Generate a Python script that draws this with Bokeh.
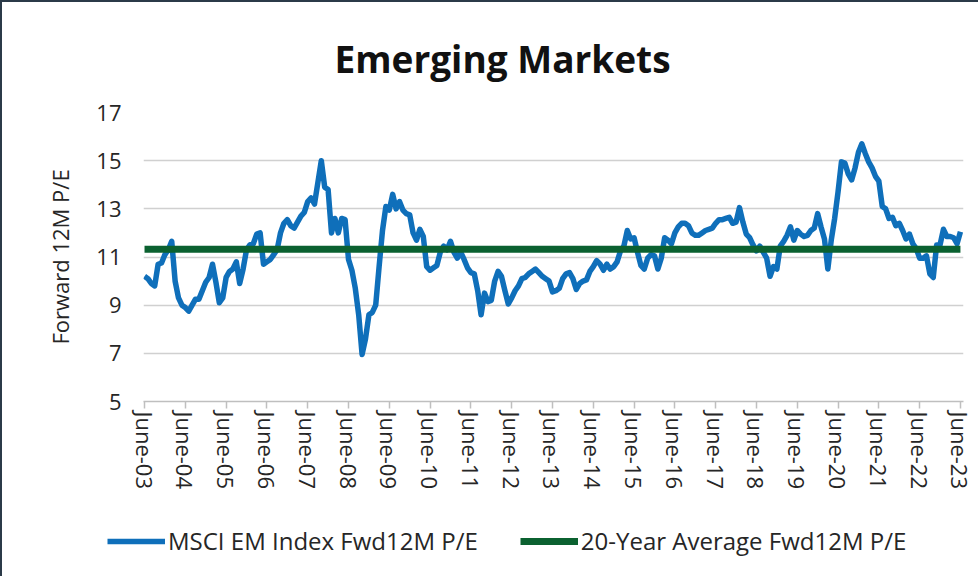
from bokeh.plotting import figure
from bokeh.models import Range1d, FixedTicker, Legend, LegendItem, ColumnDataSource
from bokeh.layouts import column
from bokeh.embed import file_html
from bokeh.resources import INLINE

# ---- data (monthly, June-03 .. June-23) ----
pe_values = [
    10.2, 10.1, 9.9, 9.8, 10.7, 10.75, 11.1, 11.3, 11.65, 10.0,
    9.3, 9.0, 8.9, 8.75, 9.0, 9.25, 9.25, 9.6, 9.95, 10.15,
    10.7, 9.95, 9.1, 9.3, 10.15, 10.4, 10.5, 10.8, 9.9, 10.5,
    11.3, 11.5, 11.55, 11.95, 12.0, 10.7, 10.8, 10.9, 11.1, 11.3,
    12.0, 12.4, 12.55, 12.3, 12.2, 12.45, 12.7, 12.85, 13.3, 13.45,
    13.2, 14.1, 15.0, 13.9, 13.8, 12.0, 12.6, 12.0, 12.6, 12.55,
    10.9, 10.45, 9.7, 8.6, 6.95, 7.6, 8.6, 8.7, 9.0, 10.6,
    12.1, 13.1, 12.95, 13.6, 13.0, 13.3, 12.95, 12.8, 12.75, 12.0,
    11.7, 12.15, 11.85, 10.6, 10.45, 10.55, 10.65, 11.2, 11.45, 11.3,
    11.65, 11.2, 10.95, 11.2, 10.9, 10.55, 10.35, 10.3, 9.6, 8.6,
    9.5, 9.15, 9.2, 10.0, 10.4, 10.2, 9.6, 9.05, 9.3, 9.6,
    9.8, 10.1, 10.15, 10.3, 10.4, 10.5, 10.35, 10.2, 10.1, 10.0,
    9.55, 9.6, 9.7, 10.1, 10.3, 10.35, 10.1, 9.65, 9.9, 10.0,
    10.05, 10.4, 10.6, 10.85, 10.7, 10.45, 10.7, 10.5, 10.6, 10.8,
    11.25, 11.45, 12.1, 11.75, 11.8, 11.2, 10.65, 10.5, 10.95, 11.1,
    11.05, 10.5, 10.95, 11.8, 11.7, 11.55, 12.0, 12.25, 12.4, 12.4,
    12.3, 12.0, 11.9, 11.9, 12.0, 12.1, 12.15, 12.2, 12.4, 12.55,
    12.55, 12.6, 12.65, 12.4, 12.45, 13.05, 12.45, 11.95, 11.8, 11.5,
    11.25, 11.45, 11.2, 10.95, 10.2, 10.6, 10.5, 11.45, 11.65, 11.9,
    12.25, 11.7, 12.1, 11.95, 11.85, 11.9, 12.1, 12.2, 12.8, 12.25,
    11.75, 10.5, 11.7, 12.6, 13.7, 14.95, 14.9, 14.45, 14.2, 14.7,
    15.35, 15.7, 15.3, 14.95, 14.7, 14.35, 14.15, 13.1, 13.0, 12.6,
    12.65, 12.3, 12.4, 12.1, 11.75, 11.95, 11.55, 11.35, 10.95, 10.95,
    11.05, 10.3, 10.15, 11.5, 11.5, 12.15, 11.85, 11.85, 11.8, 11.55,
    12.05,
]
avg_value = 11.32
month_index = list(range(len(pe_values)))
avg_values = [avg_value] * len(pe_values)

tick_positions = list(range(0, 241, 12))
tick_labels = ["June-03", "June-04", "June-05", "June-06", "June-07", "June-08",
               "June-09", "June-10", "June-11", "June-12", "June-13", "June-14",
               "June-15", "June-16", "June-17", "June-18", "June-19", "June-20",
               "June-21", "June-22", "June-23"]
y_ticks = [5, 7, 9, 11, 13, 15, 17]

series_names = ["MSCI EM Index Fwd12M P/E", "20-Year Average Fwd12M P/E"]
BLUE = "#0F6FBA"
GREEN = "#0B6130"
FONT = "Open Sans"
TXT = "#262626"
EDGE = "2px solid #2B3A48"

src = ColumnDataSource(dict(x=month_index, pe=pe_values, avg=avg_values))

# ---------------- main chart ----------------
p = figure(width=978, height=500, output_backend="svg", toolbar_location=None,
           x_range=Range1d(-0.3, 240.9), y_range=Range1d(5, 17),
           min_border_left=141, min_border_right=17, min_border_top=110,
           min_border_bottom=101)
p.styles = {"border-left": EDGE, "border-top": EDGE}
p.outline_line_color = None
p.background_fill_color = "white"
p.border_fill_color = "white"

p.title.text = "Emerging Markets"
p.title.align = "left"
p.title.offset = 191
p.title.text_font = FONT
p.title.text_font_style = "bold"
p.title.text_font_size = "37px"
p.title.text_color = "#111111"
p.title.standoff = 57

p.line("x", "pe", source=src, line_color=BLUE, line_width=5.5, line_join="round")
p.line("x", "avg", source=src, line_color=GREEN, line_width=7)

# y axis
p.yaxis.ticker = FixedTicker(ticks=y_ticks)
p.yaxis.axis_line_color = None
p.yaxis.major_tick_line_color = None
p.yaxis.minor_tick_line_color = None
p.yaxis.major_tick_out = 0
p.yaxis.major_tick_in = 0
p.yaxis.major_label_standoff = 22
p.yaxis.major_label_text_font = FONT
p.yaxis.major_label_text_font_size = "22px"
p.yaxis.major_label_text_color = TXT
p.yaxis.axis_label = "Forward 12M P/E"
p.yaxis.axis_label_text_font = FONT
p.yaxis.axis_label_text_font_size = "22px"
p.yaxis.axis_label_text_font_style = "normal"
p.yaxis.axis_label_text_color = TXT
p.yaxis.axis_label_standoff = 18

# x axis
p.xaxis.ticker = FixedTicker(ticks=tick_positions)
p.xaxis.major_label_overrides = {t: lab for t, lab in zip(tick_positions, tick_labels)}
p.xaxis.major_label_orientation = "vertical"
p.xaxis.axis_line_color = "#BFBFBF"
p.xaxis.axis_line_width = 1.5
p.xaxis.major_tick_line_color = "#BFBFBF"
p.xaxis.major_tick_line_width = 1.5
p.xaxis.major_tick_out = 7
p.xaxis.major_tick_in = 0
p.xaxis.minor_tick_line_color = None
p.xaxis.major_label_standoff = 3
p.xaxis.major_label_text_font = FONT
p.xaxis.major_label_text_font_size = "22px"
p.xaxis.major_label_text_color = TXT

p.xgrid.grid_line_color = None
p.ygrid.grid_line_color = "#D0D0D0"
p.ygrid.grid_line_width = 1.5

# ---------------- legend strip (same series, drawn outside its view) ----------------
lg = figure(width=978, height=76, output_backend="svg", toolbar_location=None,
            x_range=Range1d(0, 1), y_range=Range1d(0, 1),
            x_axis_location=None, y_axis_location=None,
            min_border_left=0, min_border_right=0, min_border_top=0, min_border_bottom=0)
if "frame_align" in lg.properties():
    lg.frame_align = False
    p.frame_align = False
    legend_x = 105
else:
    legend_x = 105 - 141
lg.styles = {"border-left": EDGE}
lg.outline_line_color = None
lg.grid.grid_line_color = None
lg.background_fill_color = "white"
lg.border_fill_color = "white"
l_pe = lg.line("x", "pe", source=src, line_color=BLUE, line_width=5.5)
l_avg = lg.line("x", "avg", source=src, line_color=GREEN, line_width=7)

legend = Legend(items=[LegendItem(label=series_names[0], renderers=[l_pe]),
                       LegendItem(label=series_names[1], renderers=[l_avg])],
                orientation="horizontal", location=(legend_x, 19),
                padding=0, margin=0, spacing=42, glyph_width=58, glyph_height=24,
                label_height=24, label_standoff=3,
                label_text_font=FONT, label_text_font_size="24px",
                label_text_color=TXT, border_line_color=None,
                background_fill_alpha=0)
lg.add_layout(legend, "center")

layout = column(p, lg, spacing=0)
open("out.html", "w").write(file_html(layout, INLINE))
